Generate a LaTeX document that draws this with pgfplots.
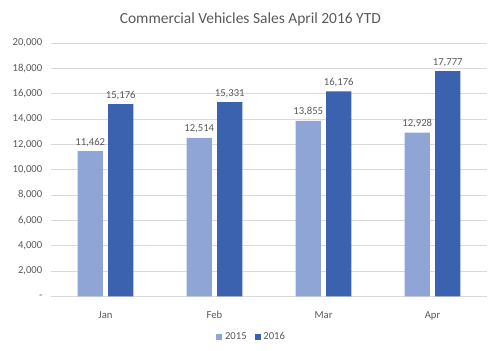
\documentclass[border=0pt]{standalone}
\usepackage{fontspec}
\setmainfont{Carlito}
\usepackage{pgfplots}
\pgfplotsset{compat=1.18}
\definecolor{lightbar}{HTML}{8FA5D6}
\definecolor{darkbar}{HTML}{3B62AE}
\definecolor{txt}{HTML}{595959}
\definecolor{gridc}{HTML}{D9D9D9}
\begin{document}
\begin{tikzpicture}
\useasboundingbox (-38.25pt,-40.5pt) rectangle (336.75pt,222.25pt);
\begin{axis}[
  at={(0,0)}, anchor=south west,
  scale only axis, width=327pt, height=190pt,
  xmin=-0.5, xmax=3.5, ymin=0, ymax=20000,
  scaled y ticks=false,
  xtick={0,1,2,3}, xticklabels={Jan,Feb,Mar,Apr},
  ytick={0,2000,4000,6000,8000,10000,12000,14000,16000,18000,20000},
  yticklabels={-,{2,000},{4,000},{6,000},{8,000},{10,000},{12,000},{14,000},{16,000},{18,000},{20,000}},
  ymajorgrids, grid style={gridc, line width=0.6pt},
  axis line style={draw=none},
  axis x line*=bottom,
  x axis line style={draw=gridc, line width=0.6pt},
  tick style={draw=none},
  ticklabel style={font=\fontsize{8}{9}\selectfont, text=txt},
  xticklabel style={yshift=-1pt, text height=1.6ex, text depth=0.3ex},
  yticklabel style={xshift=-3pt},
  ybar, bar width=0.23,
  /pgf/number format/assume math mode=true,
  nodes near coords,
  nodes near coords style={font=\fontsize{8}{9}\selectfont, text=txt, /pgf/number format/1000 sep={,}},
  title={Commercial Vehicles Sales April 2016 YTD},
  title style={font=\fontsize{11.6}{14}\selectfont, text=txt, yshift=3pt, xshift=-14pt},
  legend style={at={(0.461,-0.16)}, anchor=center, draw=none, font=\fontsize{8}{9}\selectfont, text=txt, legend columns=2, /tikz/every even column/.append style={column sep=4pt}},
  legend image code/.code={\fill[#1] (0cm,-0.08cm) rectangle (0.16cm,0.08cm);},
]
\addplot[fill=lightbar, draw=none, bar shift=-0.14] coordinates {(0,11462) (1,12514) (2,13855) (3,12928)};
\addplot[fill=darkbar, draw=none, bar shift=0.14] coordinates {(0,15176) (1,15331) (2,16176) (3,17777)};
\legend{2015,2016}
\end{axis}
\end{tikzpicture}
\end{document}
